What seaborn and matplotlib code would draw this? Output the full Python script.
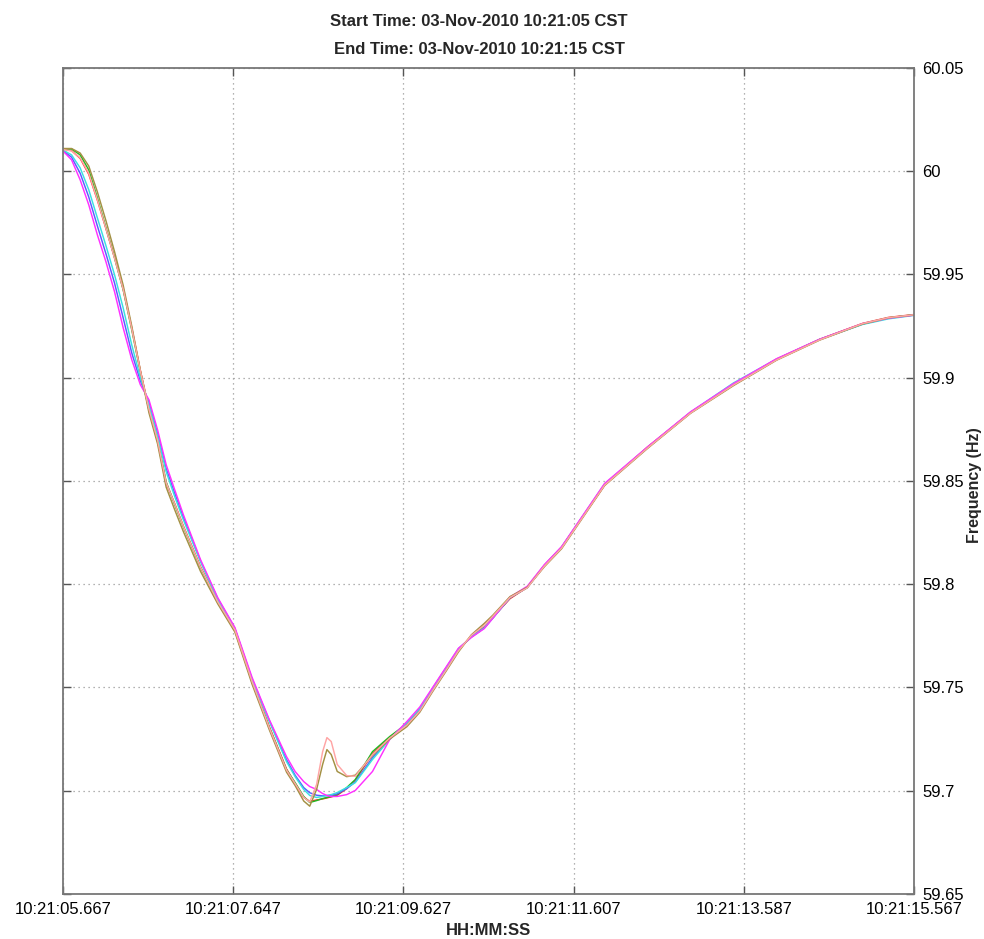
import matplotlib
matplotlib.use("Agg")
import matplotlib.pyplot as plt
import seaborn as sns
import pandas as pd

# time in seconds after 10:21:05.667
t_sec = [0.0, 0.1, 0.2, 0.3, 0.4, 0.5, 0.6, 0.7, 0.8, 0.9,
         1.0, 1.1, 1.2, 1.3, 1.4, 1.6, 1.8, 2.0, 2.2, 2.4,
         2.6, 2.7, 2.8, 2.87, 2.95, 3.02, 3.07, 3.12, 3.19, 3.3,
         3.4, 3.6, 3.8,
         4.0, 4.15, 4.3, 4.45, 4.6, 4.75, 4.9, 5.0, 5.2, 5.4, 5.6, 5.8,
         6.3, 6.8, 7.3, 7.8, 8.3, 8.8, 9.3, 9.6, 9.9]

red = [60.0108, 60.0100, 60.0062, 59.9985, 59.9860, 59.9722, 59.9582, 59.9430, 59.9240, 59.9035,
       59.8850, 59.8695, 59.8490, 59.8390, 59.8282, 59.8085, 59.7918, 59.7775, 59.7530, 59.7310,
       59.7105, 59.7035, 59.6968, 59.6948, 59.6955, 59.6960, 59.6965, 59.6970, 59.6978, 59.7010,
       59.7050, 59.7180, 59.7258,
       59.7320, 59.7390, 59.7495, 59.7590, 59.7680, 59.7750, 59.7795, 59.7840, 59.7930, 59.7985, 59.8092, 59.8180,
       59.8480, 59.8665, 59.8832, 59.8968, 59.9090, 59.9186, 59.9263, 59.9292, 59.9306]

green = [60.0108, 60.0108, 60.0079, 60.0006, 59.9871, 59.9726, 59.9580, 59.9426, 59.9232, 59.9029,
         59.8845, 59.8700, 59.8496, 59.8385, 59.8278, 59.8080, 59.7915, 59.7780, 59.7528, 59.7306,
         59.7102, 59.7039, 59.6972, 59.6943, 59.6952, 59.6962, 59.6967, 59.6972, 59.6981, 59.7015,
         59.7054, 59.7189, 59.7262,
         59.7325, 59.7393, 59.7490, 59.7586, 59.7683, 59.7746, 59.7790, 59.7838, 59.7935, 59.7983, 59.8090, 59.8177,
         59.8482, 59.8661, 59.8830, 59.8966, 59.9087, 59.9184, 59.9261, 59.9290, 59.9305]

blue = [60.0100, 60.0068, 59.9990, 59.9875, 59.9735, 59.9600, 59.9458, 59.9290, 59.9120, 59.8985,
        59.8880, 59.8730, 59.8560, 59.8440, 59.8325, 59.8112, 59.7930, 59.7785, 59.7540, 59.7340,
        59.7150, 59.7075, 59.7015, 59.6990, 59.6978, 59.6975, 59.6976, 59.6978, 59.6985, 59.7010,
        59.7042, 59.7160, 59.7250,
        59.7328, 59.7396, 59.7492, 59.7588, 59.7685, 59.7745, 59.7789, 59.7837, 59.7935, 59.7984, 59.8091, 59.8178,
        59.8484, 59.8662, 59.8832, 59.8970, 59.9089, 59.9185, 59.9260, 59.9288, 59.9304]

cyan = [60.0103, 60.0079, 60.0016, 59.9910, 59.9774, 59.9639, 59.9498, 59.9338, 59.9159, 59.9000,
        59.8869, 59.8719, 59.8545, 59.8424, 59.8312, 59.8109, 59.7925, 59.7780, 59.7538, 59.7335,
        59.7141, 59.7068, 59.7006, 59.6977, 59.6967, 59.6972, 59.6977, 59.6981, 59.6991, 59.7015,
        59.7039, 59.7151, 59.7248,
        59.7330, 59.7398, 59.7495, 59.7590, 59.7688, 59.7744, 59.7788, 59.7836, 59.7936, 59.7986, 59.8092, 59.8180,
        59.8485, 59.8663, 59.8833, 59.8975, 59.9090, 59.9185, 59.9258, 59.9285, 59.9302]

magenta = [60.0098, 60.0055, 59.9958, 59.9837, 59.9692, 59.9561, 59.9416, 59.9242, 59.9087, 59.8966,
           59.8893, 59.8748, 59.8579, 59.8457, 59.8337, 59.8119, 59.7935, 59.7790, 59.7548, 59.7344,
           59.7165, 59.7093, 59.7044, 59.7020, 59.7006, 59.6986, 59.6977, 59.6972, 59.6972, 59.6981,
           59.7001, 59.7093, 59.7248,
           59.7335, 59.7405, 59.7500, 59.7595, 59.7690, 59.7742, 59.7785, 59.7835, 59.7938, 59.7990, 59.8095, 59.8182,
           59.8488, 59.8665, 59.8835, 59.8972, 59.9092, 59.9186, 59.9262, 59.9288, 59.9303]

olive = [60.0110, 60.0110, 60.0088, 60.0025, 59.9900, 59.9760, 59.9610, 59.9448, 59.9250, 59.9035,
         59.8830, 59.8680, 59.8470, 59.8360, 59.8255, 59.8062, 59.7905, 59.7768, 59.7515, 59.7295,
         59.7090, 59.7025, 59.6950, 59.6925, 59.7006, 59.7127, 59.7199, 59.7175, 59.7093, 59.7068,
         59.7075, 59.7170, 59.7250,
         59.7310, 59.7380, 59.7480, 59.7575, 59.7672, 59.7755, 59.7810, 59.7850, 59.7940, 59.7985, 59.8085, 59.8172,
         59.8478, 59.8658, 59.8828, 59.8962, 59.9085, 59.9182, 59.9260, 59.9290, 59.9304]

pink = [60.0105, 60.0098, 60.0065, 59.9990, 59.9862, 59.9722, 59.9578, 59.9428, 59.9236, 59.9032,
        59.8848, 59.8698, 59.8492, 59.8388, 59.8280, 59.8082, 59.7915, 59.7778, 59.7528, 59.7305,
        59.7100, 59.7035, 59.6968, 59.6945, 59.7030, 59.7189, 59.7257, 59.7238, 59.7127, 59.7073,
        59.7070, 59.7175, 59.7255,
        59.7318, 59.7386, 59.7485, 59.7580, 59.7678, 59.7752, 59.7800, 59.7845, 59.7936, 59.7982, 59.8088, 59.8175,
        59.8480, 59.8660, 59.8829, 59.8965, 59.9086, 59.9183, 59.9262, 59.9291, 59.9305]

x_ticks = [0.0, 1.98, 3.96, 5.94, 7.92, 9.9]
x_tick_labels = ["10:21:05.667", "10:21:07.647", "10:21:09.627",
                 "10:21:11.607", "10:21:13.587", "10:21:15.567"]
y_ticks = [59.65, 59.7, 59.75, 59.8, 59.85, 59.9, 59.95, 60.0, 60.05]
y_tick_labels = ["59.65", "59.7", "59.75", "59.8", "59.85", "59.9", "59.95", "60", "60.05"]

series = {"red": red, "green": green, "blue": blue, "cyan": cyan,
          "magenta": magenta, "olive": olive, "pink": pink}
palette = {"red": "#ff2a2a", "green": "#22b822", "blue": "#5a5aff", "cyan": "#3ae0e0",
           "magenta": "#ff30ff", "olive": "#a39043", "pink": "#ffa5a5"}

rows = []
for name, vals in series.items():
    for t, v in zip(t_sec, vals):
        rows.append({"t": t, "f": v, "series": name})
df = pd.DataFrame(rows)

sns.set_style("white")
plt.rcParams['font.family'] = ['Liberation Sans', 'DejaVu Sans']

fig = plt.figure(figsize=(9.84, 9.39), dpi=100)
ax = fig.add_axes([0.064, 0.048, 0.865, 0.8796])

sns.lineplot(data=df, x="t", y="f", hue="series", palette=palette,
             hue_order=list(series.keys()), estimator=None, sort=False,
             legend=False, linewidth=1.05, ax=ax)

ax.set_xlim(0, 9.9)
ax.set_ylim(59.65, 60.05)
ax.set_xticks(x_ticks)
ax.set_xticklabels(x_tick_labels, fontsize=12)
ax.set_yticks(y_ticks)
ax.set_yticklabels(y_tick_labels, fontsize=12)
ax.yaxis.tick_right()
ax.tick_params(axis="both", direction="in", length=6, width=1, color="#555555",
               top=True, bottom=True, left=True, right=True,
               labelleft=False, labelright=True, labeltop=False, labelbottom=True,
               pad=6, labelcolor="black")
ax.grid(True, linestyle=(0, (1, 3)), color="#999999", linewidth=0.9)
for sp in ax.spines.values():
    sp.set_color("#777777")
    sp.set_linewidth(1.3)

ax.set_xlabel("HH:MM:SS", fontsize=12, fontweight="bold", labelpad=4)
ax.set_ylabel("Frequency (Hz)", fontsize=11.5, fontweight="bold")
ax.yaxis.set_label_position("right")
ax.yaxis.set_label_coords(1.071, 0.495)
ax.yaxis.label.set_rotation(90)
ax.yaxis.label.set_va("center")
ax.yaxis.label.set_ha("center")

fig.text(0.487, 0.985, "Start Time: 03-Nov-2010 10:21:05 CST", ha="center", va="top",
         fontsize=12, fontweight="bold")
fig.text(0.487, 0.955, "End Time: 03-Nov-2010 10:21:15 CST", ha="center", va="top",
         fontsize=12, fontweight="bold")

fig.savefig("out.png", dpi=100)
